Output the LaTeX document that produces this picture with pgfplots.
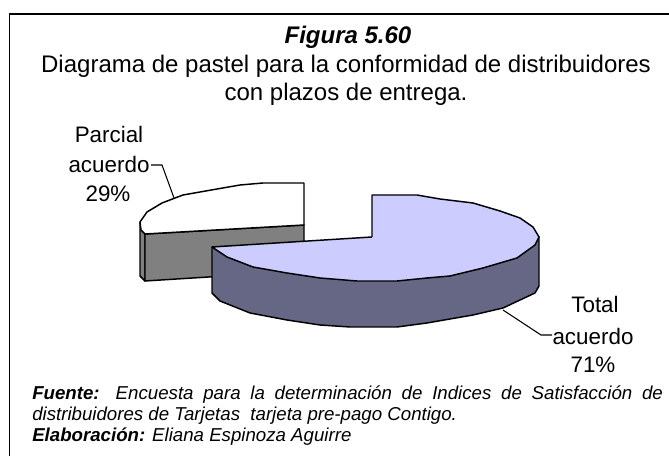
\documentclass[border=0pt]{standalone}
\usepackage{pgfplots}
\pgfplotsset{compat=1.18}
\usepackage{fontspec}
\setmainfont{Liberation Sans}
\definecolor{sliceblue}{HTML}{CCCCFF}
\definecolor{sideblue}{HTML}{666685}
\definecolor{sidegrey}{HTML}{808080}
% axis runs in reference pixels, 1 px = 0.75 pt
\newcommand{\bigtxt}{\fontsize{18pt}{22pt}\selectfont}
\newcommand{\lbltxt}{\fontsize{16.8pt}{20pt}\selectfont}
\newcommand{\smalltxt}{\fontsize{14pt}{16pt}\selectfont}
\begin{document}
\begin{tikzpicture}
\useasboundingbox (0,0) rectangle (501.75pt,344.25pt);
\begin{axis}[
    at={(0,0)}, anchor=south west,
    scale only axis, width=501.75pt, height=344.25pt,
    xmin=0, xmax=669, ymin=0, ymax=459, y dir=reverse,
    hide axis, clip=false,
    every axis plot/.append style={no markers, line width=1.1pt, line join=round},
    ]
    % frame
    \addplot[black] coordinates {(9.5,456) (9.5,14) (669,14)};
    % parcial acuerdo: left sliver, front wall, top
    \addplot[black, fill=sidegrey] coordinates {(140,222) (140,276) (145,281) (145,234) (140,222)};
    \addplot[black, fill=sidegrey] coordinates {(145,234) (304,225) (304,271) (145,281) (145,234)};
    \addplot[black, fill=white] coordinates {(304,183) (263,183) (240,185) (217,189) (183,195) (162,203) (147,212) (140,222) (141,230) (145,234) (304,225) (304,183)};
    % total acuerdo: side wall, top
    \addplot[black, fill=sideblue] coordinates {(212,247) (212,293) (220,301) (250,313) (287,320) (320,325) (350,327) (397,327) (427,323) (473,315) (503,308) (535,293) (539,286) (539,237) (212,247)};
    \addplot[black, fill=sliceblue] coordinates {(372,237) (372,195) (417,195) (440,199) (473,203) (500,211) (520,218) (533,227) (539,237) (535,245) (517,258) (483,268) (450,276) (427,278) (397,281) (357,281) (320,278) (287,273) (253,267) (227,257) (212,247) (372,237)};
    % leaders
    \addplot[black, line width=0.8pt] coordinates {(151,165) (162,165) (174,198)};
    \addplot[black, line width=0.8pt] coordinates {(503,310) (541,335) (552,335)};
    % texts
    \node at (axis cs:348,37) {\bigtxt\bfseries\itshape Figura 5.60};
    \node at (axis cs:346,66) {\bigtxt Diagrama de pastel para la conformidad de distribuidores};
    \node at (axis cs:346,94) {\bigtxt con plazos de entrega.};
    \node at (axis cs:109,134) {\lbltxt Parcial};
    \node at (axis cs:109,164) {\lbltxt acuerdo};
    \node at (axis cs:108,194) {\lbltxt 29\%};
    \node at (axis cs:595,304) {\lbltxt Total};
    \node at (axis cs:593,336) {\lbltxt acuerdo};
    \node at (axis cs:593,365) {\lbltxt 71\%};
    \node[anchor=west, inner sep=0pt] at (axis cs:32,395) {\makebox[473pt][s]{\smalltxt\itshape\textbf{Fuente:} Encuesta para la determinación de Indices de Satisfacción de}};
    \node[anchor=west, inner sep=0pt] at (axis cs:32,416) {\smalltxt\itshape distribuidores de Tarjetas\ \ tarjeta pre-pago Contigo.};
    \node[anchor=west, inner sep=0pt] at (axis cs:32,437) {\smalltxt\itshape\textbf{Elaboración:} Eliana Espinoza Aguirre};
\end{axis}
\end{tikzpicture}
\end{document}
